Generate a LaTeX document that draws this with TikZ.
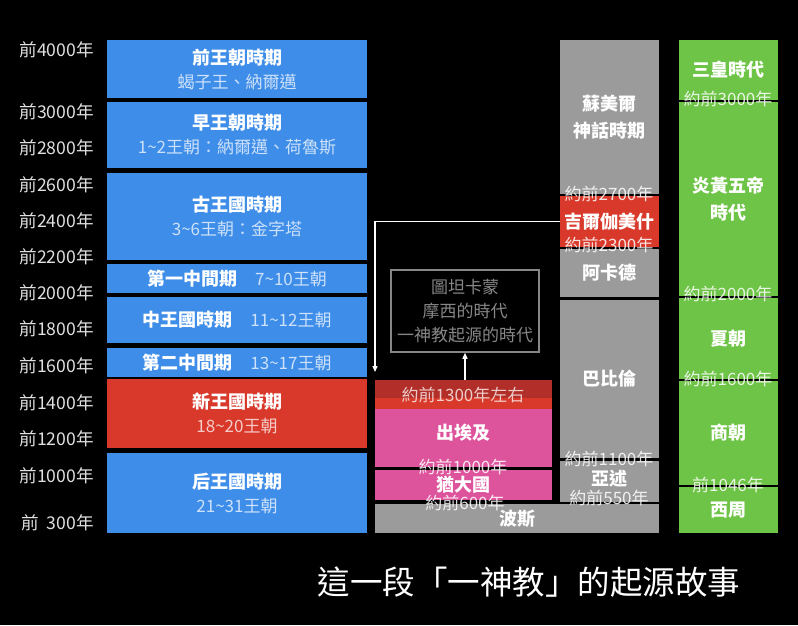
\documentclass[tikz,border=0pt]{standalone}
\usepackage{fontspec}
\setmainfont{Noto Sans CJK TC}
\usetikzlibrary{positioning,arrows.meta}
\definecolor{egblue}{RGB}{61,141,233}
\definecolor{egred}{RGB}{216,57,42}
\definecolor{egdark}{RGB}{178,46,40}
\definecolor{egpink}{RGB}{222,84,156}
\definecolor{eggray}{RGB}{155,155,155}
\definecolor{eggreen}{RGB}{110,196,70}
\definecolor{notegray}{RGB}{135,135,135}
\newcommand{\erasub}[2][egblue]{{\mdseries\fontsize{17}{24}\selectfont\color{white!74!#1}#2}}
\tikzset{
  era/.style={inner sep=0pt, align=center, text=white, minimum width=260pt,
    font=\fontsize{18}{24}\selectfont\bfseries},
  colbox/.style={inner sep=0pt, align=center, text=white, minimum width=99pt,
    font=\fontsize{18}{27}\selectfont\bfseries},
  midbox/.style={colbox, minimum width=177pt},
  yearlab/.style={anchor=east, inner sep=0pt, text=white!88!black, font=\fontsize{17.6}{20}\selectfont},
  yrtag/.style={inner sep=0pt, text=white, text opacity=0.85, font=\fontsize{17}{20}\selectfont},
  notebox/.style={draw=notegray, line width=1.5pt, text=notegray, align=center,
    minimum width=148pt, minimum height=82pt, font=\fontsize{17}{24}\selectfont},
  figarrow/.style={-{Triangle[length=6pt,width=5pt]}, white, line width=1.3pt},
}

\begin{document}
\begin{tikzpicture}[x=1pt,y=-1pt]
  \fill[black] (0,0) rectangle (798,625);
  \useasboundingbox (0,0) rectangle (798,625);
  % years
  \foreach \yr/\y in {4000/50,3000/112,2800/148,2600/185,2400/221,2200/257,2000/293,
      1800/329,1600/366,1400/403,1200/439,1000/476}
    \node[yearlab] (y\yr) at (94,\y) {前\yr{}年};
  \node[yearlab] (y300) at (94,523) {前\ \ 300年};
  % egypt
  \node[era, fill=egblue, minimum height=58pt] (pre) at (237,69) {前王朝時期\\\erasub{蝎子王、納爾邁}};
  \node[era, fill=egblue, minimum height=66pt] (early) at (237,135) {早王朝時期\\\erasub{1\textasciitilde2王朝：納爾邁、荷魯斯}};
  \node[era, fill=egblue, minimum height=87pt] (old) at (237,216.5) {古王國時期\\\erasub{3\textasciitilde6王朝：金字塔}};
  \node[era, fill=egblue, minimum height=29pt] (first) at (237,278.5) {第一中間期\quad\erasub{7\textasciitilde10王朝}};
  \node[era, fill=egblue, minimum height=46pt] (middle) at (237,320) {中王國時期\quad\erasub{11\textasciitilde12王朝}};
  \node[era, fill=egblue, minimum height=29pt] (second) at (237,362.5) {第二中間期\quad\erasub{13\textasciitilde17王朝}};
  \node[era, fill=egred, minimum height=69pt] (new) at (237,413.5) {新王國時期\\\erasub[egred]{18\textasciitilde20王朝}};
  \node[era, fill=egblue, minimum height=80pt] (late) at (237,493) {后王國時期\\\erasub{21\textasciitilde31王朝}};
  % israel
  \node[midbox, fill=egred, minimum height=29pt] (top) at (463.5,394.5) {};
  \node[midbox, fill=egdark, minimum height=18pt] (band) at (463.5,389) {};
  \node[yrtag, text opacity=0.75] (t1300) at (463,395) {約前1300年左右};
  \node[midbox, fill=egpink, minimum height=58pt] (exodus) at (463.5,438) {};
  \node[colbox] (exodustxt) at (463.5,433) {出埃及};
  \node[midbox, fill=egpink, minimum height=30pt] (judah) at (463.5,485) {猶大國};
  \node[colbox, fill=eggray, minimum width=284pt, minimum height=29pt] (persia) at (517,518.5) {波斯};
  \node[yrtag] (t1000) at (463,467) {約前1000年};
  \node[yrtag] (t600) at (465,503) {約前600年};
  % mesopotamia
  \node[colbox, fill=eggray, minimum height=154pt] (sumer) at (609.5,117) {蘇美爾\\神話時期};
  \node[colbox, fill=egred, minimum height=51pt] (gil) at (609.5,221.5) {吉爾伽美什};
  \node[colbox, fill=eggray, minimum height=48pt] (akkad) at (609.5,273) {阿卡德};
  \node[colbox, fill=eggray, minimum height=158pt] (babylon) at (609.5,379) {巴比倫};
  \node[colbox, fill=eggray, minimum height=41pt] (assyria) at (609.5,481.5) {};
  \node[colbox] (assyriatxt) at (609.5,479) {亞述};
  \node[yrtag] (t2700) at (609,194) {約前2700年};
  \node[yrtag] (t2300) at (609,245) {約前2300年};
  \node[yrtag] (t1100) at (609,459) {約前1100年};
  \node[yrtag] (t550) at (609,498) {約前550年};
  % china
  \node[colbox, fill=eggreen, minimum height=60pt] (sanhuang) at (728.5,70) {三皇時代};
  \node[colbox, fill=eggreen, minimum height=194pt] (wudi) at (728.5,199) {炎黃五帝\\時代};
  \node[colbox, fill=eggreen, minimum height=81pt] (xia) at (728.5,338.5) {夏朝};
  \node[colbox, fill=eggreen, minimum height=104pt] (shang) at (728.5,433) {商朝};
  \node[colbox, fill=eggreen, minimum height=46pt] (zhou) at (728.5,510) {西周};
  \node[yrtag] (t3000) at (728,99) {約前3000年};
  \node[yrtag] (t2000) at (728,294) {約前2000年};
  \node[yrtag] (t1600) at (728,379) {約前1600年};
  \node[yrtag] (t1046) at (728,485) {前1046年};
  % note
  \node[notebox] (note) at (465,311) {圖坦卡蒙\\摩西的時代\\一神教起源的時代};
  \coordinate (tip) at (375,372);
  \draw[figarrow] (gil.west) -| (tip);
  \draw[figarrow] (top.north -| note.south) -- (note.south);
  \node[text=white, inner sep=0pt, font=\fontsize{32.5}{38}\selectfont] (title) at (529,582) {這一段「一神教」的起源故事};
\end{tikzpicture}
\end{document}
